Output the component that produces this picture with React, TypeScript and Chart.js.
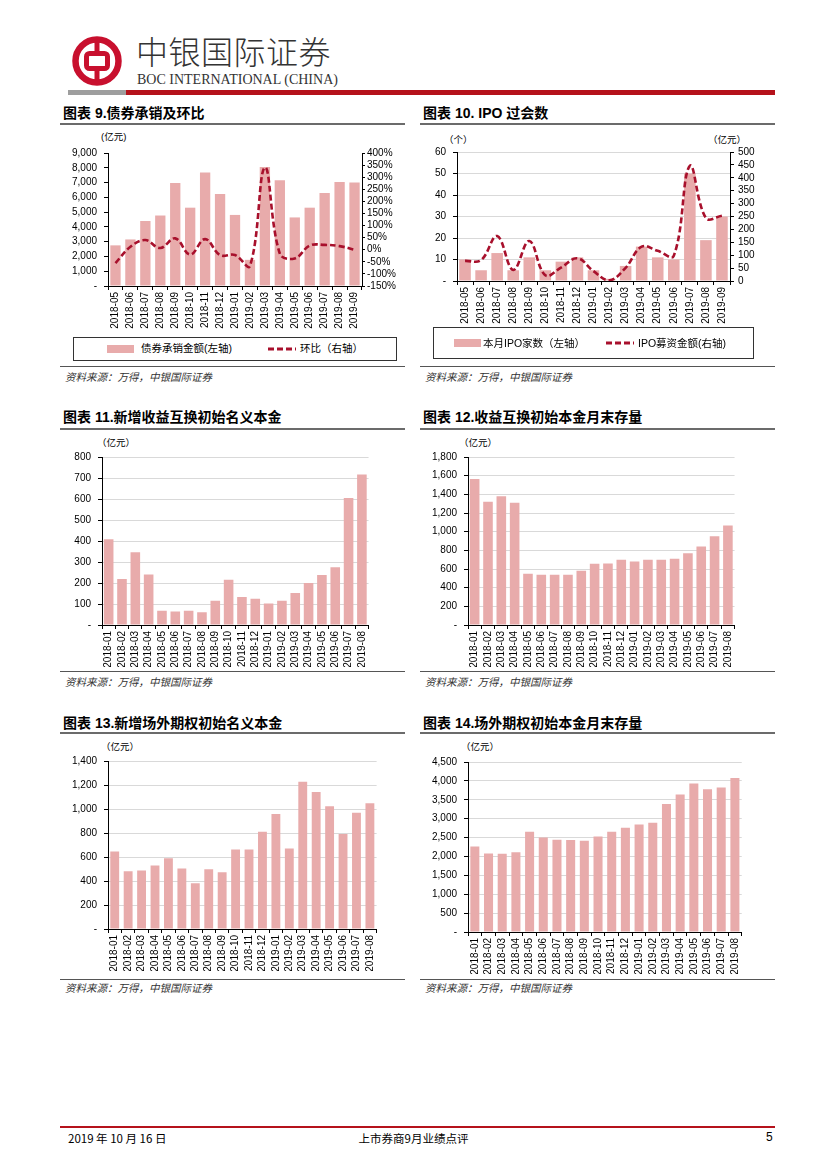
import React, { useEffect, useRef } from 'react';
import { Chart, registerables } from 'chart.js';
Chart.register(...registerables);

// ---------- data ----------
const months17 = ['2018-05','2018-06','2018-07','2018-08','2018-09','2018-10','2018-11','2018-12','2019-01','2019-02','2019-03','2019-04','2019-05','2019-06','2019-07','2019-08','2019-09'];
const months20 = ['2018-01','2018-02','2018-03','2018-04','2018-05','2018-06','2018-07','2018-08','2018-09','2018-10','2018-11','2018-12','2019-01','2019-02','2019-03','2019-04','2019-05','2019-06','2019-07','2019-08'];

const bondUnderwriting = [2750, 3150, 4400, 4770, 6970, 5300, 7680, 6220, 4810, 1770, 8050, 7150, 4640, 5300, 6290, 7040, 7000];
const bondMoM = [-55, 12, 40, 7, 47, -20, 44, -22, -22, -67, 340, -16, -36, 17, 20, 15, 0];

const ipoCount = [10, 5, 13, 5, 11, 5, 9, 11, 5, 1, 7, 16, 11, 10, 50, 19, 30];
const ipoFunds = [78, 81, 174, 43, 155, 22, 53, 88, 38, 3, 51, 133, 117, 98, 446, 244, 253];

const trsNewNotional = [408, 219, 347, 241, 68, 64, 68, 61, 115, 216, 133, 125, 102, 115, 152, 200, 238, 275, 605, 717];
const trsOutstanding = [1565, 1320, 1380, 1310, 548, 538, 538, 538, 580, 655, 658, 698, 680, 698, 698, 710, 768, 840, 952, 1065];
const otcNewNotional = [645, 482, 488, 530, 590, 505, 382, 498, 472, 662, 662, 810, 958, 670, 1228, 1142, 1022, 792, 968, 1048];
const otcOutstanding = [2265, 2075, 2072, 2110, 2655, 2500, 2440, 2438, 2415, 2525, 2655, 2760, 2845, 2890, 3385, 3640, 3928, 3780, 3822, 4075];

// ---------- styles ----------
const FONT_NUM = "'Liberation Sans Narrow','Liberation Sans',Arial,sans-serif";
const FONT_CJK = "'Liberation Sans','Noto Sans CJK SC',sans-serif";
const BAR = '#E8ABAB';
const LINE = '#A8102C';
const GRID = '#D9D9D9';

const fmtNum = (v: any) => (Number(v) === 0 ? '-' : Number(v).toLocaleString('en-US'));

function xScale(h: number) {
  return {
    type: 'category',
    offset: true,
    grid: { display: true, drawOnChartArea: false, drawTicks: true, tickLength: 4, color: '#000', tickColor: '#000', offset: true },
    border: { display: true, color: '#000', width: 1 },
    ticks: { autoSkip: false, maxRotation: 90, minRotation: 90, padding: 2, font: { family: FONT_NUM, size: 10 }, color: '#000' },
    afterFit: (s: any) => { s.height = h; },
  };
}

function yScale(pos: 'left' | 'right', min: number, max: number, step: number, w: number, grid: boolean, fmt: (v: any) => string, tl = 4, pad = 7) {
  return {
    position: pos,
    min, max,
    ticks: { stepSize: step, autoSkip: false, padding: pad, font: { family: FONT_NUM, size: 10 }, color: '#000', callback: fmt },
    grid: { display: true, drawOnChartArea: grid, drawTicks: true, tickLength: tl, color: GRID, tickColor: '#000' },
    border: { display: true, color: '#000', width: 1 },
    afterFit: (s: any) => { s.width = w; },
  };
}

function baseOptions(padTop: number, padRight: number, padBottom: number) {
  return {
    responsive: false,
    animation: false,
    layout: { padding: { top: padTop, right: padRight, bottom: padBottom, left: 0 } },
    plugins: { legend: { display: false }, tooltip: { enabled: false } },
  };
}

function ChartCanvas({ left, top, width, height, build }: any) {
  const ref = useRef<HTMLCanvasElement>(null);
  useEffect(() => {
    const chart = new Chart(ref.current as HTMLCanvasElement, build());
    return () => chart.destroy();
  }, []);
  return <canvas ref={ref} width={width} height={height} style={{ position: 'absolute', left, top, width, height }} />;
}

// ---------- chart configs ----------
const chart9 = () => ({
  type: 'bar',
  data: {
    labels: months17,
    datasets: [
      { type: 'line', label: '环比（右轴）', data: bondMoM, yAxisID: 'y1', borderColor: LINE, borderWidth: 2.6, borderDash: [6, 3], pointRadius: 0, tension: 0.4, fill: false, order: 1 },
      { type: 'bar', label: '债券承销金额(左轴)', data: bondUnderwriting, yAxisID: 'y', backgroundColor: BAR, barPercentage: 0.69, categoryPercentage: 1, order: 2 },
    ],
  },
  options: {
    ...baseOptions(10, 2, 2),
    scales: {
      x: xScale(46),
      y: yScale('left', 0, 9000, 1000, 50, false, fmtNum),
      y1: yScale('right', -150, 400, 50, 45, false, (v: any) => `${v}%`, 3, 2),
    },
  },
});

const chart10 = () => ({
  type: 'bar',
  data: {
    labels: months17,
    datasets: [
      { type: 'line', label: 'IPO募资金额(右轴)', data: ipoFunds, yAxisID: 'y1', borderColor: LINE, borderWidth: 2.6, borderDash: [6, 3], pointRadius: 0, tension: 0.4, fill: false, order: 1 },
      { type: 'bar', label: '本月IPO家数（左轴）', data: ipoCount, yAxisID: 'y', backgroundColor: BAR, barPercentage: 0.72, categoryPercentage: 1, order: 2 },
    ],
  },
  options: {
    ...baseOptions(10, 2, 2),
    scales: {
      x: xScale(45),
      y: yScale('left', 0, 60, 10, 40, true, fmtNum),
      y1: yScale('right', 0, 500, 50, 40, false, (v: any) => `${v}`, 4, 4),
    },
  },
});

const simpleBar = (labels: string[], data: number[], max: number, step: number, yW: number, xH: number, bp: number) => () => ({
  type: 'bar',
  data: {
    labels,
    datasets: [{ data, backgroundColor: BAR, barPercentage: bp, categoryPercentage: 1 }],
  },
  options: {
    ...baseOptions(10, 4, 2),
    scales: {
      x: xScale(xH),
      y: yScale('left', 0, max, step, yW, true, fmtNum),
    },
  },
});

// ---------- page pieces ----------
const abs = (left: number, top: number, extra: any = {}) => ({ position: 'absolute' as const, left, top, ...extra });

function Txt({ x, y, size, text, bold, italic, color, family, h }: any) {
  const hh = h || Math.round(size * 1.6);
  return (
    <div style={abs(x, y - hh / 2, { height: hh, lineHeight: `${hh}px`, fontSize: size, fontWeight: bold ? 'bold' : 'normal', fontStyle: italic ? 'italic' : 'normal', color: color || '#000', fontFamily: family || FONT_CJK, whiteSpace: 'nowrap' })}>{text}</div>
  );
}

function HLine({ x, y, w, h, color }: any) {
  return <div style={abs(x, y, { width: w, height: h, background: color })} />;
}

function Section({ col, titleY, title, underY, srcLineY, srcY }: any) {
  const x0 = col === 0 ? 60 : 420;
  const w = col === 0 ? 345 : 355;
  return (
    <>
      <Txt x={x0 + 3} y={titleY} size={14} bold text={title} />
      <HLine x={x0} y={underY} w={w} h={2} color="#6b6b6b" />
      <HLine x={x0} y={srcLineY} w={w} h={1} color="#555" />
      <Txt x={x0 + 5} y={srcY} size={10.5} italic color="#333" text="资料来源：万得，中银国际证券" />
    </>
  );
}

function BarSwatch({ x, y }: any) {
  return <div style={abs(x, y - 4, { width: 27, height: 8, background: BAR })} />;
}
function DashSwatch({ x, y }: any) {
  return (
    <svg style={abs(x, y - 3)} width={28} height={6}>
      <line x1={0} y1={3} x2={28} y2={3} stroke={LINE} strokeWidth={3} strokeDasharray="6 3" />
    </svg>
  );
}

function Logo() {
  return (
    <svg style={abs(72, 36)} width={50} height={50} viewBox="0 0 50 50">
      <circle cx={25} cy={25} r={21.5} fill="none" stroke="#C8102E" strokeWidth={6.5} />
      <rect x={14.5} y={17.5} width={21} height={15} rx={3} fill="none" stroke="#C8102E" strokeWidth={5} />
      <line x1={25} y1={4} x2={25} y2={17.5} stroke="#C8102E" strokeWidth={5} />
      <line x1={25} y1={32.5} x2={25} y2={46} stroke="#C8102E" strokeWidth={5} />
    </svg>
  );
}

export default function App() {
  return (
    <div style={{ position: 'absolute', left: 0, top: 0, width: 827, height: 1169, background: '#fff', overflow: 'hidden', fontFamily: FONT_CJK }}>
      {/* header */}
      <Logo />
      <div style={abs(136, 30, { fontSize: 32, lineHeight: '40px', height: 40, color: '#333', fontFamily: "'Noto Sans CJK SC',sans-serif", fontWeight: 300, letterSpacing: 0.5 })}>中银国际证券</div>
      <div style={abs(137, 71, { fontSize: 14, lineHeight: '18px', height: 18, color: '#333', fontFamily: "'Liberation Serif','DejaVu Serif',serif" })}>BOC INTERNATIONAL (CHINA)</div>
      <HLine x={68} y={90} w={58} h={5} color="#9e9e9e" />
      <HLine x={126} y={90} w={649} h={5} color="#B5121B" />

      {/* chart 9 */}
      <Section col={0} titleY={112.5} title="图表 9.债券承销及环比" underY={122.5} srcLineY={366} srcY={377} />
      <Txt x={101} y={136} size={9.5} text="(亿元)" />
      <ChartCanvas left={58} top={140} width={351} height={194} build={chart9} />
      <div style={abs(73, 337, { width: 322, height: 22, border: '1px solid #333' })} />
      <BarSwatch x={107} y={348.5} />
      <Txt x={141} y={348.5} size={10.5} text="债券承销金额(左轴)" />
      <DashSwatch x={268} y={348.5} />
      <Txt x={300} y={348.5} size={10.5} text="环比（右轴）" />

      {/* chart 10 */}
      <Section col={1} titleY={112.5} title="图表 10. IPO 过会数" underY={122.5} srcLineY={366} srcY={377} />
      <Txt x={444} y={139} size={9.5} text="（个）" />
      <Txt x={708} y={139} size={9.5} text="（亿元）" />
      <ChartCanvas left={417} top={139} width={355} height={189} build={chart10} />
      <div style={abs(433, 327, { width: 319, height: 30, border: '1px solid #333' })} />
      <BarSwatch x={454} y={343} />
      <Txt x={483} y={343} size={10.5} text="本月IPO家数（左轴）" />
      <DashSwatch x={606} y={343} />
      <Txt x={638} y={343} size={10.5} text="IPO募资金额(右轴)" />

      {/* chart 11 */}
      <Section col={0} titleY={416.5} title="图表 11.新增收益互换初始名义本金" underY={427.5} srcLineY={670.5} srcY={682.5} />
      <Txt x={97} y={442} size={9.5} text="（亿元）" />
      <ChartCanvas left={57} top={444} width={319} height={225} build={simpleBar(months20, trsNewNotional, 800, 100, 45, 42, 0.72)} />

      {/* chart 12 */}
      <Section col={1} titleY={416.5} title="图表 12.收益互换初始本金月末存量" underY={427.5} srcLineY={670.5} srcY={682.5} />
      <Txt x={459} y={442} size={9.5} text="（亿元）" />
      <ChartCanvas left={423} top={444} width={319} height={225} build={simpleBar(months20, trsOutstanding, 1800, 200, 45, 42, 0.72)} />

      {/* chart 13 */}
      <Section col={0} titleY={722.5} title="图表 13.新增场外期权初始名义本金" underY={732} srcLineY={979} srcY={988.5} />
      <Txt x={101} y={746} size={9.5} text="（亿元）" />
      <ChartCanvas left={58} top={748} width={326} height={225} build={simpleBar(months20, otcNewNotional, 1400, 200, 50, 42, 0.66)} />

      {/* chart 14 */}
      <Section col={1} titleY={722.5} title="图表 14.场外期权初始本金月末存量" underY={732} srcLineY={979} srcY={988.5} />
      <Txt x={461} y={746} size={9.5} text="（亿元）" />
      <ChartCanvas left={423} top={749} width={326} height={227} build={simpleBar(months20, otcOutstanding, 4500, 500, 45, 42, 0.66)} />

      {/* footer */}
      <HLine x={60} y={1126} w={715} h={2} color="#B5121B" />
      <Txt x={68} y={1137.5} size={11.5} text="2019 年 10 月 16 日" family="'Liberation Sans Narrow','Noto Sans CJK SC',sans-serif" />
      <div style={abs(0, 1129, { width: 827, textAlign: 'center', fontSize: 11.5, lineHeight: '18px', height: 18, fontFamily: "'Noto Sans CJK SC',sans-serif", color: '#000' })}>上市券商9月业绩点评</div>
      <Txt x={766} y={1137.5} size={12} text="5" family="'Liberation Sans Narrow','Liberation Sans',sans-serif" />
    </div>
  );
}
